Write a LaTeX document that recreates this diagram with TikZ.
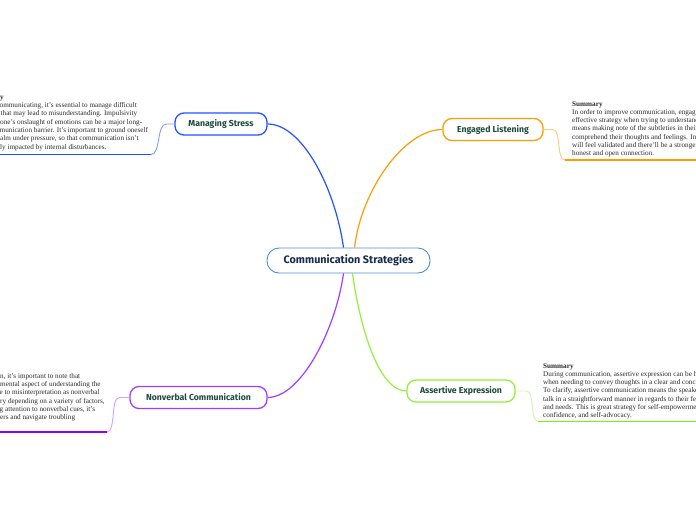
\documentclass[tikz,border=0pt]{standalone}
\usepackage{fontspec}
\setmainfont{Liberation Serif}
\newfontfamily\lblfont{Fira Sans}
\definecolor{lbl}{HTML}{1E4A3B}
\definecolor{ctxt}{HTML}{172A4F}
\definecolor{cborder}{HTML}{4A8FD4}
\definecolor{bluest}{HTML}{2352FF}
\definecolor{bluelt}{HTML}{7C9BFF}
\definecolor{orst}{HTML}{FF9C00}
\definecolor{orlt}{HTML}{FFCB7A}
\definecolor{pust}{HTML}{A43CFF}
\definecolor{pudk}{HTML}{8A00FF}
\definecolor{pult}{HTML}{D6A0FF}
\definecolor{grst}{HTML}{95F03A}
\definecolor{grdk}{HTML}{7FEA1A}
\definecolor{grlt}{HTML}{CCF7A4}
\definecolor{sumcol}{HTML}{2B2B2B}
\tikzset{
  sumtxt/.style={inner sep=0pt, font=\fontsize{7.2}{8.3}\selectfont, text=sumcol},
  sumhead/.style={inner sep=0pt, font=\fontsize{7.2}{8.3}\selectfont\bfseries, text=sumcol},
  branch/.style={draw, line width=1.3pt, rounded corners=9pt, fill=white,
    font=\lblfont\bfseries\fontsize{8.7}{10}\selectfont, text=lbl, inner sep=0pt,
    minimum height=22pt},
  central/.style={draw=cborder, line width=0.9pt, rounded corners=12pt, fill=white,
    font=\lblfont\bfseries\fontsize{10.8}{12}\selectfont, text=ctxt, inner sep=0pt,
    minimum width=163pt, minimum height=25pt},
  mainlink/.style={line width=1.2pt},
  sublink/.style={line width=0.9pt},
  underl/.style={line width=1.8pt},
}
\begin{document}
\begin{tikzpicture}[x=1pt,y=-1pt]
\useasboundingbox (0,0) rectangle (696,520);
\fill[white] (0,0) rectangle (696,520);
\clip (0,0) rectangle (696,520);

% nodes
\node[central] (c) at (348.5,260.5) {Communication Strategies};
\node[branch, draw=bluest, minimum width=92pt] (ms) at (221,124) {Managing Stress};
\node[branch, draw=orst, minimum width=100pt] (el) at (493,129.5) {Engaged Listening};
\node[branch, draw=pust, minimum width=137pt] (nc) at (198.5,397.5) {Nonverbal Communication};
\node[branch, draw=grst, minimum width=108pt] (ae) at (461,391) {Assertive Expression};

% main connectors
\draw[mainlink, bluest] ([xshift=-5pt]c.north) .. controls +(-8,-58) and +(35,0) .. (ms.east);
\draw[mainlink, orst] ([xshift=6pt]c.north) .. controls +(7,-58) and +(-38,0) .. (el.west);
\draw[mainlink, pust] ([xshift=-5pt]c.south) .. controls +(-8,57) and +(33,0) .. (nc.east);
\draw[mainlink, grst] ([xshift=4pt]c.south) .. controls +(8,57) and +(-27,0) .. (ae.west);

% coordinates for underlines
\coordinate (msa) at (151,154.5);
\coordinate (msb) at (0,154.5);
\coordinate (ela) at (565,160);
\coordinate (elb) at (696,160);
\coordinate (nca) at (107,432);
\coordinate (ncb) at (0,432);
\coordinate (aea) at (538,421.5);
\coordinate (aeb) at (696,421.5);

% sub connectors
\draw[sublink, bluelt] (ms.west) -- ++(-8,0) .. controls +(-10,0) and +(10,0) .. (msa);
\draw[underl, bluest] (msa) -- (msb);
\draw[sublink, orlt] (el.east) -- ++(9,0) .. controls +(9,0) and +(-9,0) .. (ela);
\draw[underl, orst] (ela) -- (elb);
\draw[sublink, pult] (nc.west) -- ++(-10,0) .. controls +(-9,0) and +(9,0) .. (nca);
\draw[underl, pudk] (nca) -- (ncb);
\draw[sublink, grlt] (ae.east) -- ++(11,0) .. controls +(8,0) and +(-8,0) .. (aea);
\draw[underl, grdk] (aea) -- (aeb);

% Managing Stress summary (cut at left edge)
\node[sumhead, anchor=base west] (m0) at (0,99) {\llap{Summar}y};
\node[sumtxt, anchor=base west] (m1) at (-0.5,107.5) {\llap{When c}ommunicating, it's essential to manage difficult};
\node[sumtxt, anchor=base west] (m2) at (0.5,115.8) {\llap{emotions }that may lead to misunderstanding. Impulsivity};
\node[sumtxt, anchor=base west] (m3) at (0,124.1) {\llap{and }one's onslaught of emotions can be a major long-};
\node[sumtxt, anchor=base west] (m4) at (-0.5,132.4) {\llap{term com}munication barrier. It's important to ground oneself};
\node[sumtxt, anchor=base west] (m5) at (0,140.7) {\llap{and stay c}alm under pressure, so that communication isn't};
\node[sumtxt, anchor=base west] (m6) at (0,149) {\llap{negative}ly impacted by internal disturbances.};

% Engaged Listening summary (cut at right edge)
\node[sumhead, anchor=base west] (e0) at (572,106) {Summary};
\node[sumtxt, anchor=base west] (e1) at (572,114.3) {In order to improve communication, engaged listening is an};
\node[sumtxt, anchor=base west] (e2) at (572,122.6) {effective strategy when trying to understand others. This};
\node[sumtxt, anchor=base west] (e3) at (572,130.9) {means making note of the subtleties in their speech to better};
\node[sumtxt, anchor=base west] (e4) at (572,139.2) {comprehend their thoughts and feelings. In turn, the speaker};
\node[sumtxt, anchor=base west] (e5) at (572,147.5) {will feel validated and there'll be a stronger sense of};
\node[sumtxt, anchor=base west] (e6) at (572,155.8) {honest and open connection.};

% Nonverbal Communication summary (cut at left edge)
\node[sumtxt, anchor=base west] (n1) at (0,378.3) {\llap{During communicatio}n, it's important to note that};
\node[sumtxt, anchor=base west] (n2) at (0,386.6) {\llap{body language is a funda}mental aspect of understanding the};
\node[sumtxt, anchor=base west] (n3) at (-0.5,394.9) {\llap{other person, yet it's pron}e to misinterpretation as nonverbal};
\node[sumtxt, anchor=base west] (n4) at (0,403.2) {\llap{signals can va}ry depending on a variety of factors,};
\node[sumtxt, anchor=base west] (n5) at (-0.5,411.5) {\llap{By payin}g attention to nonverbal cues, it's};
\node[sumtxt, anchor=base west] (n6) at (0,419.8) {\llap{easier to understand oth}ers and navigate troubling};

% Assertive Expression summary (cut at right edge)
\node[sumhead, anchor=base west] (a0) at (543,368) {Summary};
\node[sumtxt, anchor=base west] (a1) at (543,376.3) {During communication, assertive expression can be helpful};
\node[sumtxt, anchor=base west] (a2) at (543,384.6) {when needing to convey thoughts in a clear and concise manner.};
\node[sumtxt, anchor=base west] (a3) at (543,392.9) {To clarify, assertive communication means the speaker is able to};
\node[sumtxt, anchor=base west] (a4) at (543,401.2) {talk in a straightforward manner in regards to their feelings};
\node[sumtxt, anchor=base west] (a5) at (543,409.5) {and needs. This is great strategy for self-empowerment,};
\node[sumtxt, anchor=base west] (a6) at (543,417.8) {confidence, and self-advocacy.};
\end{tikzpicture}
\end{document}
